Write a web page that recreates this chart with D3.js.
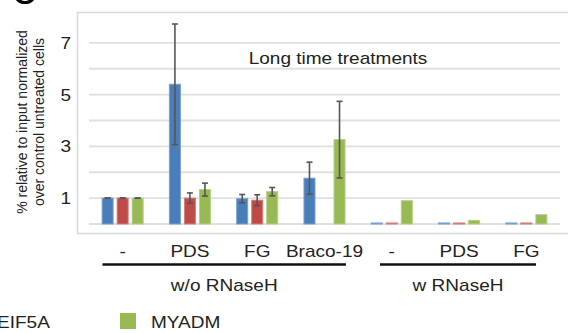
<!doctype html>
<html>
<head>
<meta charset="utf-8">
<script src="https://d3js.org/d3.v7.min.js"></script>
<style>
  body { margin: 0; background: #fff; }
  svg { display: block; font-family: "Liberation Sans", Arial, sans-serif; }
</style>
</head>
<body>
<svg width="568" height="333"></svg>
<script>
// data
var categories = ["-", "PDS", "FG", "Braco-19", "-w", "PDS-w", "FG-w"];
var catLabels  = ["-", "PDS", "FG", "Braco-19", "-", "PDS", "FG"];
var series     = ["blue", "EIF5A", "MYADM"];
var blueVals   = [1.0, 5.4, 0.98, 1.77, 0.04, 0.04, 0.04];
var redVals    = [1.0, 1.0, 0.92, null, 0.04, 0.04, 0.04];
var greenVals  = [1.0, 1.33, 1.25, 3.26, 0.90, 0.14, 0.36];
var blueErr    = [0, 2.33, 0.16, 0.62, null, null, null];
var redErr     = [0, 0.2, 0.21, null, null, null, null];
var greenErr   = [0, 0.25, 0.16, 1.48, null, null, null];
var yTicks     = [1, 3, 5, 7];
var groups     = [{label: "w/o RNaseH", from: 0, to: 3}, {label: "w RNaseH", from: 4, to: 6}];

var colors = {blue: "#4a7ebb", EIF5A: "#be4b48", MYADM: "#98b954"};
var edges  = {blue: "#7a9fcf", EIF5A: "#d47f7c", MYADM: "#b5cf85"};
var SX = 1.12; // the figure is stretched a bit horizontally

var svg = d3.select("svg");

function stext(x, y, txt, anchor, size, rot) {
  return svg.append("text")
    .attr("transform", "translate(" + x + "," + y + ")" + (rot ? " rotate(-90)" : " scale(" + SX + ",1)"))
    .attr("text-anchor", anchor)
    .attr("font-size", size)
    .attr("fill", "#222")
    .text(txt);
}

// panel letter (cut at top)
svg.append("ellipse").attr("cx", 25).attr("cy", -7).attr("rx", 10).attr("ry", 9.5)
  .attr("fill", "none").attr("stroke", "#000").attr("stroke-width", 3.2);

// chart area frame
svg.append("rect").attr("x", 77.5).attr("y", 12.5).attr("width", 600).attr("height", 221)
  .attr("fill", "none").attr("stroke", "#d9d9d9").attr("stroke-width", 1.5);

var y = d3.scaleLinear().domain([0, 8]).range([224, 17]);
var x0 = d3.scaleBand().domain(categories).range([89, 560]).padding(0);
var x1 = d3.scaleBand().domain(series).range([0, x0.bandwidth()]).paddingInner(0.2).paddingOuter(0.84);

// gridlines
svg.append("g").selectAll("line").data(d3.range(0, 8)).join("line")
  .attr("x1", 89).attr("x2", 560)
  .attr("y1", function(d) { return y(d); }).attr("y2", function(d) { return y(d); })
  .attr("stroke", "#e0e0e0").attr("stroke-width", 1.8);

// y tick labels
yTicks.forEach(function(t) {
  stext(71, y(t) + 6, String(t), "end", 17);
});

// y axis title
stext(27, 122, "% relative to input normalized", "middle", 14, true);
stext(44, 122, "over control untreated cells", "middle", 14, true);

// bars
var rows = [];
categories.forEach(function(c, i) {
  rows.push({cat: c, s: "blue", v: blueVals[i], e: blueErr[i]});
  rows.push({cat: c, s: "EIF5A", v: redVals[i], e: redErr[i]});
  rows.push({cat: c, s: "MYADM", v: greenVals[i], e: greenErr[i]});
});
rows = rows.filter(function(d) { return d.v != null; });

svg.append("g").selectAll("rect").data(rows).join("rect")
  .attr("x", function(d) { return x0(d.cat) + x1(d.s) + 0.5; })
  .attr("y", function(d) { return y(d.v); })
  .attr("width", x1.bandwidth() - 1)
  .attr("height", function(d) { return y(0) - y(d.v); })
  .attr("fill", function(d) { return colors[d.s]; })
  .attr("stroke", function(d) { return edges[d.s]; })
  .attr("stroke-width", 1);

// error bars
var eb = svg.append("g").attr("stroke", "#555").attr("stroke-width", 1.6);
rows.filter(function(d) { return d.e != null; }).forEach(function(d) {
  var cx = x0(d.cat) + x1(d.s) + x1.bandwidth() / 2;
  var top = y(d.v + d.e), bot = y(d.v - d.e);
  if (d.e > 0) eb.append("line").attr("x1", cx).attr("x2", cx).attr("y1", top).attr("y2", bot);
  eb.append("line").attr("x1", cx - 3).attr("x2", cx + 3).attr("y1", top).attr("y2", top);
  eb.append("line").attr("x1", cx - 3).attr("x2", cx + 3).attr("y1", bot).attr("y2", bot);
});

// title inside plot
stext(338, 64, "Long time treatments", "middle", 17);

// category labels
categories.forEach(function(c, i) {
  stext(x0(c) + x0.bandwidth() / 2, 257, catLabels[i], "middle", 17);
});

// group lines and labels
var lineEnds = [[102.5, 346], [380, 536]];
groups.forEach(function(g, i) {
  svg.append("line").attr("x1", lineEnds[i][0]).attr("x2", lineEnds[i][1])
    .attr("y1", 264.5).attr("y2", 264.5).attr("stroke", "#111").attr("stroke-width", 2.6);
  stext((lineEnds[i][0] + lineEnds[i][1]) / 2, 291, g.label, "middle", 17);
});

// legend (partly cut, as in the source figure)
stext(-3, 328, "EIF5A", "start", 17);
svg.append("rect").attr("x", 120).attr("y", 313).attr("width", 16).attr("height", 16)
  .attr("fill", colors.MYADM);
stext(151, 328, "MYADM", "start", 17);
</script>
</body>
</html>
